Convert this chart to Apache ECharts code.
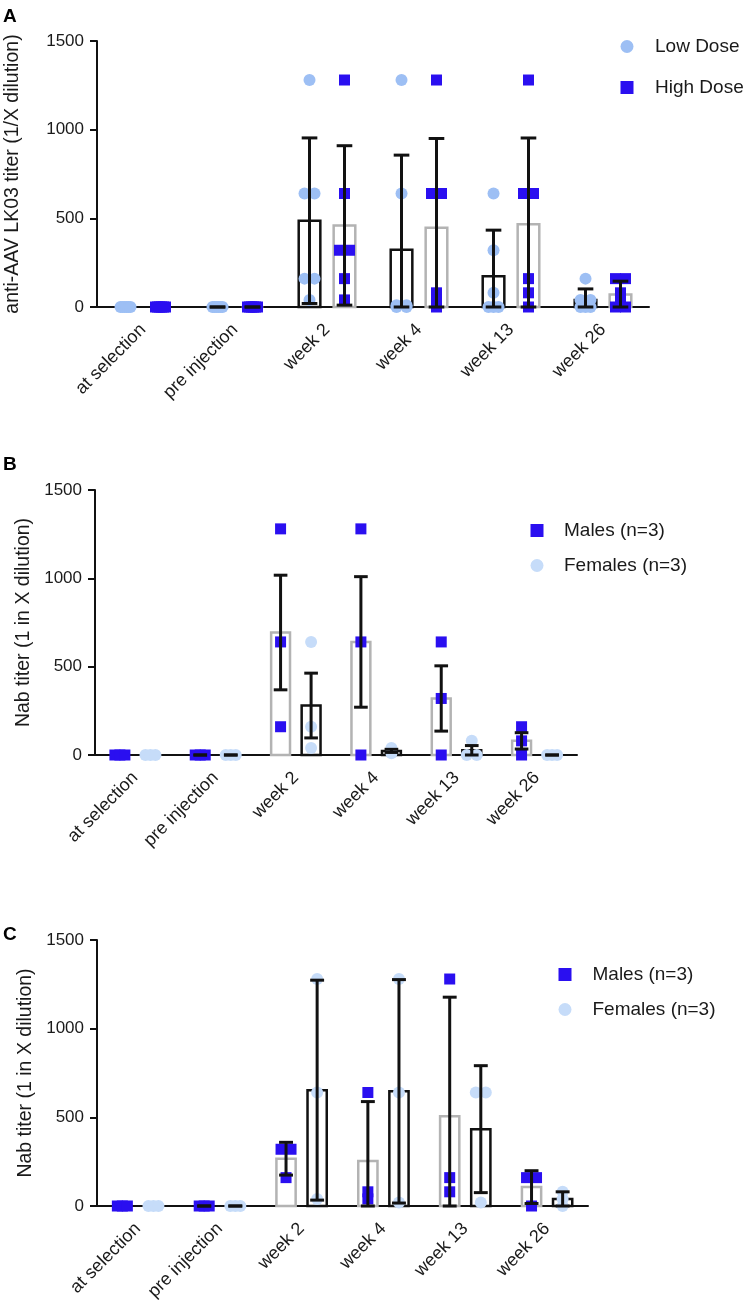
<!DOCTYPE html>
<html><head><meta charset="utf-8">
<script src="https://cdn.jsdelivr.net/npm/echarts@6/dist/echarts.min.js"></script>
<style>html,body{margin:0;padding:0;background:#fff}#c{width:747px;height:1313px}</style>
</head><body><div id="c"></div>
<script>
// ---------- data ----------
const categories = ['at selection', 'pre injection', 'week 2', 'week 4', 'week 13', 'week 26'];
const yMax = 1500;
const yStep = 500;
// which categories show a mean bar / error bar
const summaryShown = [false, true, true, true, true, true];

// Panel A: anti-AAV LK03 titer (individual animals)
const lowDoseA = [[0,0,0,0,0,0],[0,0,0,0,0,0],[1280,640,640,160,160,40],[1280,640,10,10,0,0],[640,320,80,0,0,0],[160,40,40,0,0,0]];
const highDoseA = [[0,0,0,0,0,0],[0,0,0,0,0,0],[1280,640,320,320,160,40],[1280,640,640,80,40,0],[1280,640,640,160,80,0],[160,160,80,20,0,0]];
// Panel B: Nab titer (mean ± SEM)
const malesB = [[0,0,0],[0,0,0],[1280,640,160],[1280,640,0],[640,320,0],[160,80,0]];
const femalesB = [[0,0,0],[0,0,0],[640,160,40],[40,20,10],[80,0,0],[0,0,0]];
// Panel C: Nab titer (mean ± SD)
const malesC = [[0,0,0],[0,0,0],[320,320,160],[640,80,40],[1280,160,80],[160,160,0]];
const femalesC = [[0,0,0],[0,0,0],[1280,640,40],[1280,640,20],[640,640,20],[80,40,0]];

// ---------- helpers ----------
const mean = a => a.reduce((s, v) => s + v, 0) / a.length;
const sd = a => { const m = mean(a); return Math.sqrt(a.reduce((s, v) => s + (v - m) * (v - m), 0) / (a.length - 1)); };
const sem = a => sd(a) / Math.sqrt(a.length);

const BLUE = '#2a0ff0', LIGHT = '#9dbff4', PALE = '#c6dcf9', GRAY = '#b3b3b3', BLACK = '#111';
const FONT = 'Liberation Sans, Arial, Helvetica, sans-serif';

function barSeries(gi, groups, side, color) {
  return {
    type: 'custom', xAxisIndex: gi, yAxisIndex: gi, z: 2, silent: true,
    data: groups.map((g, i) => [i, mean(g)]).filter(d => summaryShown[d[0]]),
    renderItem(params, api) {
      const top = api.coord([api.value(0), api.value(1)]);
      const base = api.coord([api.value(0), 0]);
      const band = api.size([1, 0])[0];
      const w = band * 0.235, cx = top[0] + side * band * 0.19;
      return { type: 'rect', shape: { x: cx - w / 2, y: top[1], width: w, height: base[1] - top[1] },
        style: { fill: 'none', stroke: color, lineWidth: 2.5 } };
    }
  };
}
function errSeries(gi, groups, side, errFn) {
  return {
    type: 'custom', xAxisIndex: gi, yAxisIndex: gi, z: 4, silent: true,
    data: groups.map((g, i) => [i, mean(g), errFn(g)]).filter(d => summaryShown[d[0]]),
    renderItem(params, api) {
      const i = api.value(0), m = api.value(1), e = api.value(2);
      const hi = api.coord([i, m + e]);
      const lo = api.coord([i, Math.max(0, m - e)]);
      const band = api.size([1, 0])[0];
      const cx = hi[0] + side * band * 0.19, cw = band * 0.085;
      const st = { stroke: BLACK, lineWidth: 3 };
      return { type: 'group', children: [
        { type: 'line', shape: { x1: cx, y1: hi[1], x2: cx, y2: lo[1] }, style: st },
        { type: 'line', shape: { x1: cx - cw, y1: hi[1], x2: cx + cw, y2: hi[1] }, style: st },
        { type: 'line', shape: { x1: cx - cw, y1: lo[1], x2: cx + cw, y2: lo[1] }, style: st }
      ] };
    }
  };
}
function pointSeries(gi, name, groups, side, color, shape, size) {
  const data = [];
  groups.forEach((g, i) => {
    const counts = {};
    g.forEach(v => { counts[v] = (counts[v] || 0) + 1; });
    const seen = {};
    g.forEach(v => {
      const k = counts[v], j = (seen[v] = (seen[v] || 0) + 1) - 1;
      const off = k > 1 ? (j - (k - 1) / 2) * (10 / (k - 1)) : 0;
      data.push([i, v, off]);
    });
  });
  return {
    type: 'custom', name, xAxisIndex: gi, yAxisIndex: gi, z: 3, silent: true,
    itemStyle: { color },
    data,
    renderItem(params, api) {
      const p = api.coord([api.value(0), api.value(1)]);
      const band = api.size([1, 0])[0];
      const x = p[0] + side * band * 0.19 + api.value(2), y = p[1];
      if (shape === 'circle') return { type: 'circle', shape: { cx: x, cy: y, r: size / 2 }, style: { fill: color } };
      return { type: 'rect', shape: { x: x - size / 2, y: y - size / 2, width: size, height: size }, style: { fill: color } };
    }
  };
}
function xAxis(gi) {
  return { gridIndex: gi, type: 'category', data: categories,
    axisLine: { lineStyle: { color: BLACK, width: 2 } },
    axisTick: { alignWithLabel: true, length: 6, lineStyle: { color: BLACK, width: 2 } },
    axisLabel: { interval: 0, rotate: 45, margin: 20, verticalAlign: 'middle', fontSize: 18, color: '#1a1a1a', fontFamily: FONT },
    splitLine: { show: false } };
}
function yAxis(gi, name, gap) {
  return { gridIndex: gi, type: 'value', min: 0, max: yMax, interval: yStep,
    name, nameLocation: 'middle', nameRotate: 90, nameGap: gap,
    nameTextStyle: { fontSize: 19.5, color: '#1a1a1a', fontFamily: FONT },
    axisLine: { show: true, lineStyle: { color: BLACK, width: 2 } },
    axisTick: { show: true, length: 7, lineStyle: { color: BLACK, width: 2 } },
    axisLabel: { fontSize: 17, color: '#1a1a1a', margin: 13, fontFamily: FONT, formatter: v => String(v) },
    splitLine: { show: false } };
}
function legend(left, top, gap, pad, items) {
  return { orient: 'vertical', left, top, itemGap: gap, itemWidth: 13, itemHeight: 13,
    selectedMode: false, data: items,
    textStyle: { fontSize: 19, color: '#1a1a1a', fontFamily: FONT, padding: [0, 0, 0, pad] } };
}
const letterStyle = { fontSize: 19, fontWeight: 'bold', color: '#000', fontFamily: FONT };

const option = {
  animation: false,
  backgroundColor: '#fff',
  title: [
    { text: 'A', left: -2, top: 2, textStyle: letterStyle },
    { text: 'B', left: -2, top: 450, textStyle: letterStyle },
    { text: 'C', left: -2, top: 920, textStyle: letterStyle }
  ],
  grid: [
    { left: 97, top: 41, width: 552, height: 266, outerBoundsMode: 'none', containLabel: false },
    { left: 95, top: 490, width: 482, height: 265, outerBoundsMode: 'none', containLabel: false },
    { left: 97, top: 940, width: 491, height: 266, outerBoundsMode: 'none', containLabel: false }
  ],
  xAxis: [xAxis(0), xAxis(1), xAxis(2)],
  yAxis: [
    yAxis(0, 'anti-AAV LK03 titer (1/X dilution)', 74),
    yAxis(1, 'Nab titer (1 in X dilution)', 55),
    yAxis(2, 'Nab titer (1 in X dilution)', 57)
  ],
  legend: [
    legend(615.5, 32, 22, 16.5, [{ name: 'Low Dose', icon: 'circle' }, { name: 'High Dose', icon: 'rect' }]),
    legend(525.5, 516, 16, 15.5, [{ name: 'Males (n=3)', icon: 'rect' }, { name: 'Females (n=3)', icon: 'circle' }]),
    legend(553.5, 960, 16, 16, [{ name: 'Males (n=3)', icon: 'rect' }, { name: 'Females (n=3)', icon: 'circle' }])
  ],
  series: [
    barSeries(0, lowDoseA, -1, BLACK), barSeries(0, highDoseA, 1, GRAY),
    pointSeries(0, 'Low Dose', lowDoseA, -1, LIGHT, 'circle', 12),
    pointSeries(0, 'High Dose', highDoseA, 1, BLUE, 'rect', 11),
    errSeries(0, lowDoseA, -1, sd), errSeries(0, highDoseA, 1, sd),

    barSeries(1, malesB, -1, GRAY), barSeries(1, femalesB, 1, BLACK),
    pointSeries(1, 'Males (n=3)', malesB, -1, BLUE, 'rect', 11),
    pointSeries(1, 'Females (n=3)', femalesB, 1, PALE, 'circle', 12),
    errSeries(1, malesB, -1, sem), errSeries(1, femalesB, 1, sem),

    barSeries(2, malesC, -1, GRAY), barSeries(2, femalesC, 1, BLACK),
    pointSeries(2, 'Males (n=3)', malesC, -1, BLUE, 'rect', 11),
    pointSeries(2, 'Females (n=3)', femalesC, 1, PALE, 'circle', 12),
    errSeries(2, malesC, -1, sd), errSeries(2, femalesC, 1, sd)
  ]
};
echarts.init(document.getElementById('c'), null, { renderer: 'canvas' }).setOption(option);
</script></body></html>
